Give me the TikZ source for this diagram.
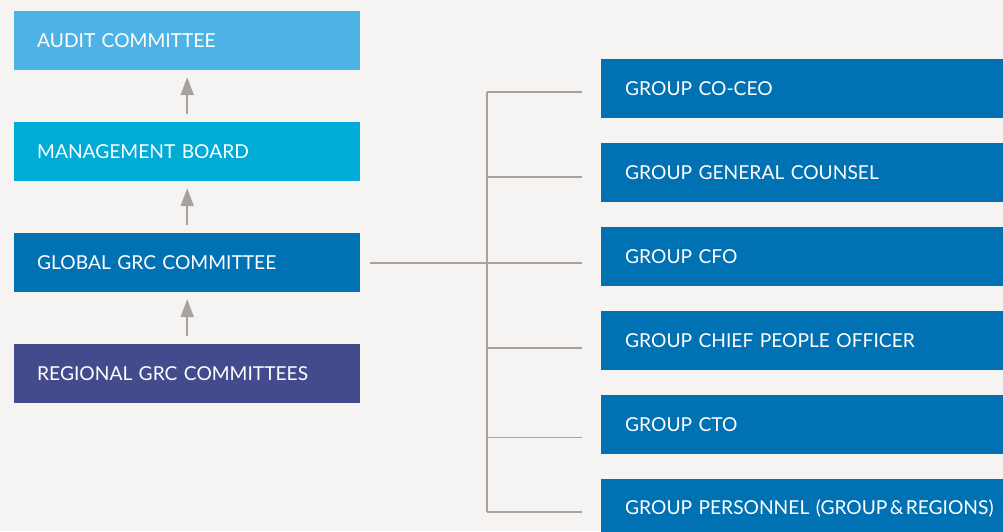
\documentclass[tikz,border=0pt]{standalone}
\usepackage{fontspec}
\setmainfont{Lato}
\usetikzlibrary{matrix,arrows.meta}
\definecolor{bgcol}{HTML}{F6F4F2}
\definecolor{auditblue}{HTML}{4DB3E6}
\definecolor{boardblue}{HTML}{00ABD6}
\definecolor{grcblue}{HTML}{0072B4}
\definecolor{regionblue}{HTML}{434B8D}
\definecolor{linegrey}{HTML}{A7A29D}

\begin{document}
\begin{tikzpicture}[x=1pt,y=-1pt,
		box/.style={text=white,font=\fontsize{19.2}{23}\selectfont,align=left,
			minimum height=59pt,inner ysep=0pt,inner xsep=23pt,outer sep=0pt},
		link/.style={draw=linegrey,line width=1.6pt},
		up/.style={color=linegrey,line width=2pt,-{Triangle[width=13pt,length=18pt]},
			shorten <=8pt,shorten >=7pt}]
		\useasboundingbox (0,0) rectangle (1003,531);
		\fill[bgcol] (0,0) rectangle (1003,531);
		
		% committees
		\matrix(l)[matrix of nodes,anchor=north west,inner sep=0pt,row sep=52pt,
			nodes={box,text width=300pt},
			row 1/.style={nodes={fill=auditblue}},
			row 2/.style={nodes={fill=boardblue}},
			row 3/.style={nodes={fill=grcblue}},
			row 4/.style={nodes={fill=regionblue}}] at (14,11){
			AUDIT COMMITTEE \\
			MANAGEMENT BOARD \\
			GLOBAL GRC COMMITTEE \\
			REGIONAL GRC COMMITTEES \\
		};
		
		% group functions
		\matrix(r)[matrix of nodes,anchor=north west,inner sep=0pt,row sep=25pt,
			nodes={box,text width=400pt,inner xsep=24pt,fill=grcblue}] at (601,59){
			GROUP CO-CEO \\
			GROUP GENERAL COUNSEL \\
			GROUP CFO \\
			GROUP CHIEF PEOPLE OFFICER \\
			GROUP CTO \\
			GROUP PERSONNEL (GROUP\hspace{0.12em}\&\hspace{0.12em}REGIONS) \\
		};
		
		\draw[up] (l-2-1.north) -- (l-1-1.south);
		\draw[up] (l-3-1.north) -- (l-2-1.south);
		\draw[up] (l-4-1.north) -- (l-3-1.south);
		
		\foreach \i/\y in {1/91.7,2/176.7,3/262.7,4/347.7,5/437.3,6/511.7}{
			\coordinate (t\i) at (487,\y);
			\draw[link] (t\i) -- ([xshift=-19.5pt]t\i -| r-\i-1.west);
		}
		\draw[link] (t1) -- (t6);
		\draw[link] ([xshift=10pt]l-3-1.east) -- (t3);
\end{tikzpicture}
\end{document}
